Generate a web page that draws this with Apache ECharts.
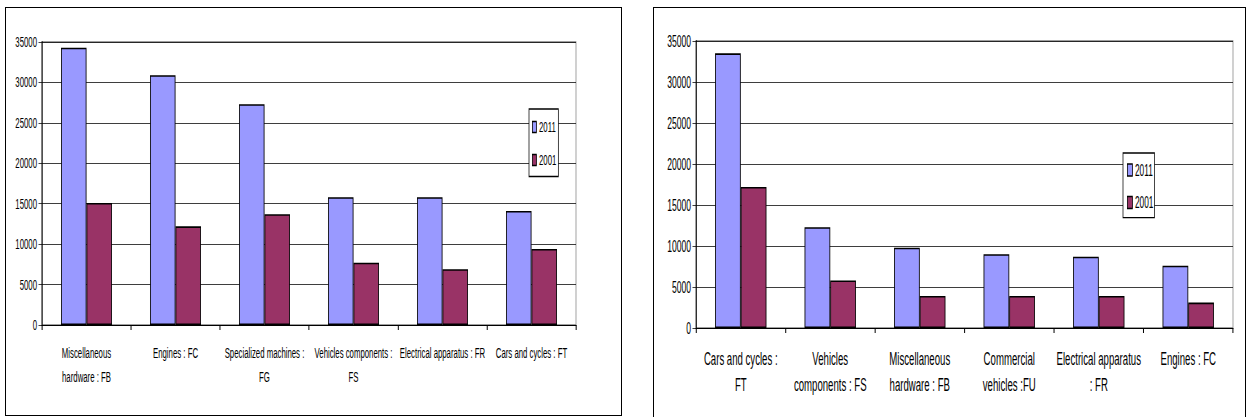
<!DOCTYPE html>
<html>
<head>
<meta charset="utf-8">
<script src="https://cdn.jsdelivr.net/npm/echarts@6/dist/echarts.min.js"></script>
<style>
  html, body { margin: 0; padding: 0; background: #fff; overflow: hidden; width: 1249px; height: 417px; }
  #page { position: relative; width: 1249px; height: 417px; overflow: hidden; }
  /* the chart is laid out wide and condensed horizontally, giving the narrow lettering */
  #wrap { position: absolute; left: 0; top: 0; height: 417px; transform-origin: 0 0; }
  #chart { height: 417px; }
  .panel { position: absolute; border: 1px solid #000; box-sizing: border-box; pointer-events: none; }
</style>
</head>
<body>
<div id="page">
  <div id="wrap"><div id="chart"></div></div>
  <div class="panel" style="left:5px; top:7px; width:617px; height:409px;"></div>
  <div class="panel" style="left:653px; top:7px; width:593px; height:440px;"></div>
</div>
<script>
// Left panel: industries ranked by 2011 value
const leftCategories = [
  'Miscellaneous\nhardware : FB',
  'Engines : FC',
  'Specialized machines :\nFG',
  'Vehicles components :\nFS',
  'Electrical apparatus : FR',
  'Cars and cycles : FT'
];
const left2011 = [34300, 30900, 27300, 15800, 15800, 14100];
const left2001 = [15100, 12200, 13700, 7700, 6900, 9400];

// Right panel
const rightCategories = [
  'Cars and cycles :\nFT',
  'Vehicles\ncomponents : FS',
  'Miscellaneous\nhardware : FB',
  'Commercial\nvehicles :FU',
  'Electrical apparatus\n: FR',
  'Engines : FC'
];
const right2011 = [33500, 12300, 9800, 9000, 8700, 7600];
const right2001 = [17200, 5800, 3900, 3900, 3900, 3100];

const seriesNames = ['2011', '2001'];
const yTicks = { min: 0, max: 35000, interval: 5000 };

// horizontal condensing factor; sx() converts on-screen widths to layout widths
const SX = 0.52;
const sx = v => v / SX;

const wrap = document.getElementById('wrap');
const chartEl = document.getElementById('chart');
chartEl.style.width = sx(1249) + 'px';
wrap.style.width = sx(1249) + 'px';
wrap.style.transform = 'scaleX(' + SX + ')';

const FONT = "'Liberation Sans', Arial, sans-serif";
const BLUE = '#9999FF';
const MAROON = '#993366';

function valueAxis(gridIndex, fontSize) {
  return {
    type: 'value', gridIndex,
    min: yTicks.min, max: yTicks.max, interval: yTicks.interval,
    axisLine: { show: true, lineStyle: { color: '#000', width: sx(1) } },
    axisTick: { show: true, length: sx(3.5), lineStyle: { color: '#000', width: 1 } },
    axisLabel: { color: '#000', fontFamily: FONT, fontSize, margin: sx(5), formatter: v => String(v) },
    splitLine: { show: true, lineStyle: { color: '#000', width: 1 } }
  };
}

function categoryAxis(gridIndex, data, fontSize, lineHeight, margin) {
  return {
    type: 'category', gridIndex, data,
    axisLine: { show: true, lineStyle: { color: '#000', width: 1.2 } },
    axisTick: { show: true, length: 5, alignWithLabel: false, lineStyle: { color: '#000', width: sx(1) } },
    axisLabel: { color: '#000', fontFamily: FONT, fontSize, lineHeight, margin, interval: 0 },
    splitLine: { show: false }
  };
}

function bar(name, data, color, xi, width) {
  return {
    type: 'bar', name, data,
    xAxisIndex: xi, yAxisIndex: xi,
    barWidth: sx(width), barGap: '0%',
    itemStyle: { color, borderColor: '#000', borderWidth: 1.6 },
    emphasis: { disabled: true },
    animation: false
  };
}

function legendBox(left, top, fontSize, itemW, itemH, gap, padding) {
  return {
    orient: 'vertical', left: sx(left), top,
    data: seriesNames,
    icon: 'rect',
    itemWidth: sx(itemW), itemHeight: itemH, itemGap: gap,
    padding: [padding[0], sx(padding[1]), padding[2], sx(padding[3])],
    backgroundColor: '#fff',
    borderColor: '#000', borderWidth: 1.4,
    textStyle: { color: '#000', fontFamily: FONT, fontSize },
    itemStyle: { borderColor: '#000', borderWidth: 1.5 },
    selectedMode: false
  };
}

const chart = echarts.init(chartEl, null, { renderer: 'svg' });
chart.setOption({
  backgroundColor: '#fff',
  animation: false,
  grid: [
    { left: sx(42), top: 42, width: sx(534), height: 283, show: true, borderColor: '#808080', borderWidth: 1.4, backgroundColor: 'transparent' },
    { left: sx(696), top: 41, width: sx(537), height: 287, show: true, borderColor: '#808080', borderWidth: 1.4, backgroundColor: 'transparent' }
  ],
  xAxis: [
    categoryAxis(0, leftCategories, 15, 24, 16),
    categoryAxis(1, rightCategories, 18.5, 26, 18)
  ],
  yAxis: [
    valueAxis(0, 15),
    valueAxis(1, 16.5)
  ],
  legend: [
    legendBox(529, 109, 15, 4, 11, 18, [10.5, 2, 9, 3]),
    legendBox(1123, 153, 16, 5, 12, 16.6, [9, 1, 7, 4])
  ],
  series: [
    bar(seriesNames[0], left2011, BLUE, 0, 25.5),
    bar(seriesNames[1], left2001, MAROON, 0, 25.5),
    bar(seriesNames[0], right2011, BLUE, 1, 25.7),
    bar(seriesNames[1], right2001, MAROON, 1, 25.7)
  ]
});
</script>
</body>
</html>
